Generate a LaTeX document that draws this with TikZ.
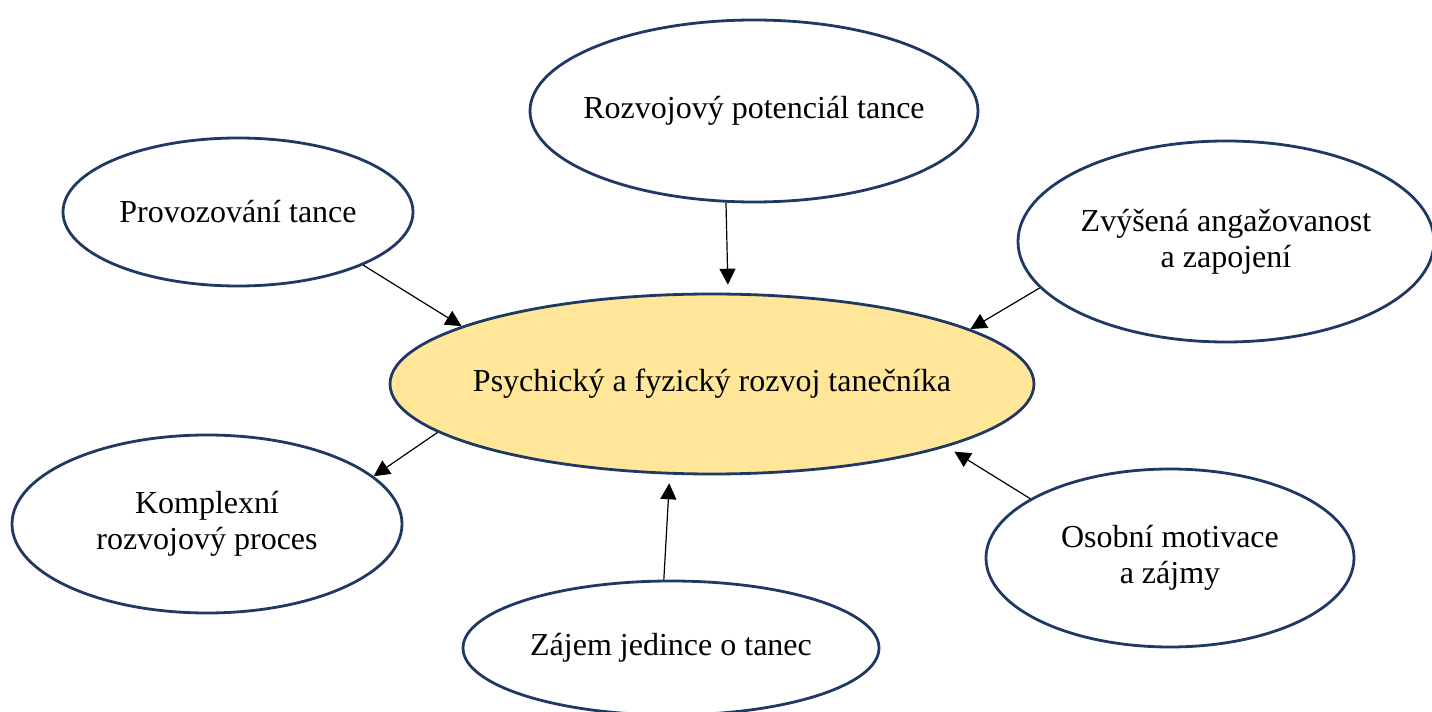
\documentclass[tikz,border=0pt]{standalone}
\usepackage{fontspec}
\setmainfont{Liberation Serif}
\usetikzlibrary{shapes.geometric,arrows.meta}
\definecolor{rim}{HTML}{1F3864}
\definecolor{gold}{HTML}{FFE699}
\begin{document}
\begin{tikzpicture}[x=0.75pt,y=-0.75pt,
  bubble/.style={ellipse, draw=rim, line width=2.1pt, fill=white, inner sep=0pt},
  txt/.style={align=center, inner sep=0pt, font=\fontsize{24}{27}\selectfont},
  link/.style={draw=black, line width=0.9pt, -{Triangle[length=12pt,width=12pt]}}]
\useasboundingbox (0,0) rectangle (1432,712);
\clip (0,0) rectangle (1432,712);

% central topic
\node[bubble, fill=gold, minimum width=483pt, minimum height=135pt,
      label={[txt]center:Psychický a fyzický rozvoj tanečníka}] (core) at (712,384) {};

% surrounding factors
\node[bubble, minimum width=336pt, minimum height=136.5pt,
      label={[txt]center:Rozvojový potenciál tance}] (potencial) at (754,111) {};
\node[bubble, minimum width=262.5pt, minimum height=111pt,
      label={[txt]center:Provozování tance}] (provoz) at (238,212) {};
\node[bubble, minimum width=312pt, minimum height=150.75pt,
      label={[txt]center:Zvýšená angažovanost\\a zapojení}] (angaz) at (1226,241.5) {};
\node[bubble, minimum width=292.5pt, minimum height=133.5pt,
      label={[txt]center:Komplexní\\rozvojový proces}] (proces) at (207,524) {};
\node[bubble, minimum width=312pt, minimum height=100.5pt,
      label={[txt]center:Zájem jedince o tanec}] (zajem) at (671,648) {};
\node[bubble, minimum width=276pt, minimum height=133.5pt,
      label={[txt]center:Osobní motivace\\a zájmy}] (motiv) at (1170,558) {};

% influences
\draw[link] (provoz.337.9) -- (core.167.4);
\draw[link, shorten >=6pt] (potencial.253.3) -- (core.80.5);
\draw[link] (angaz.194.2) -- (core.12.9);
\draw[link] (core.190.5) -- (proces.16.7);
\draw[link, shorten >=6.5pt] (zajem.96.8) -- (core.245.3);
\draw[link, shorten >=6.8pt] (motiv.157.7) -- (core.345.5);
\end{tikzpicture}
\end{document}
